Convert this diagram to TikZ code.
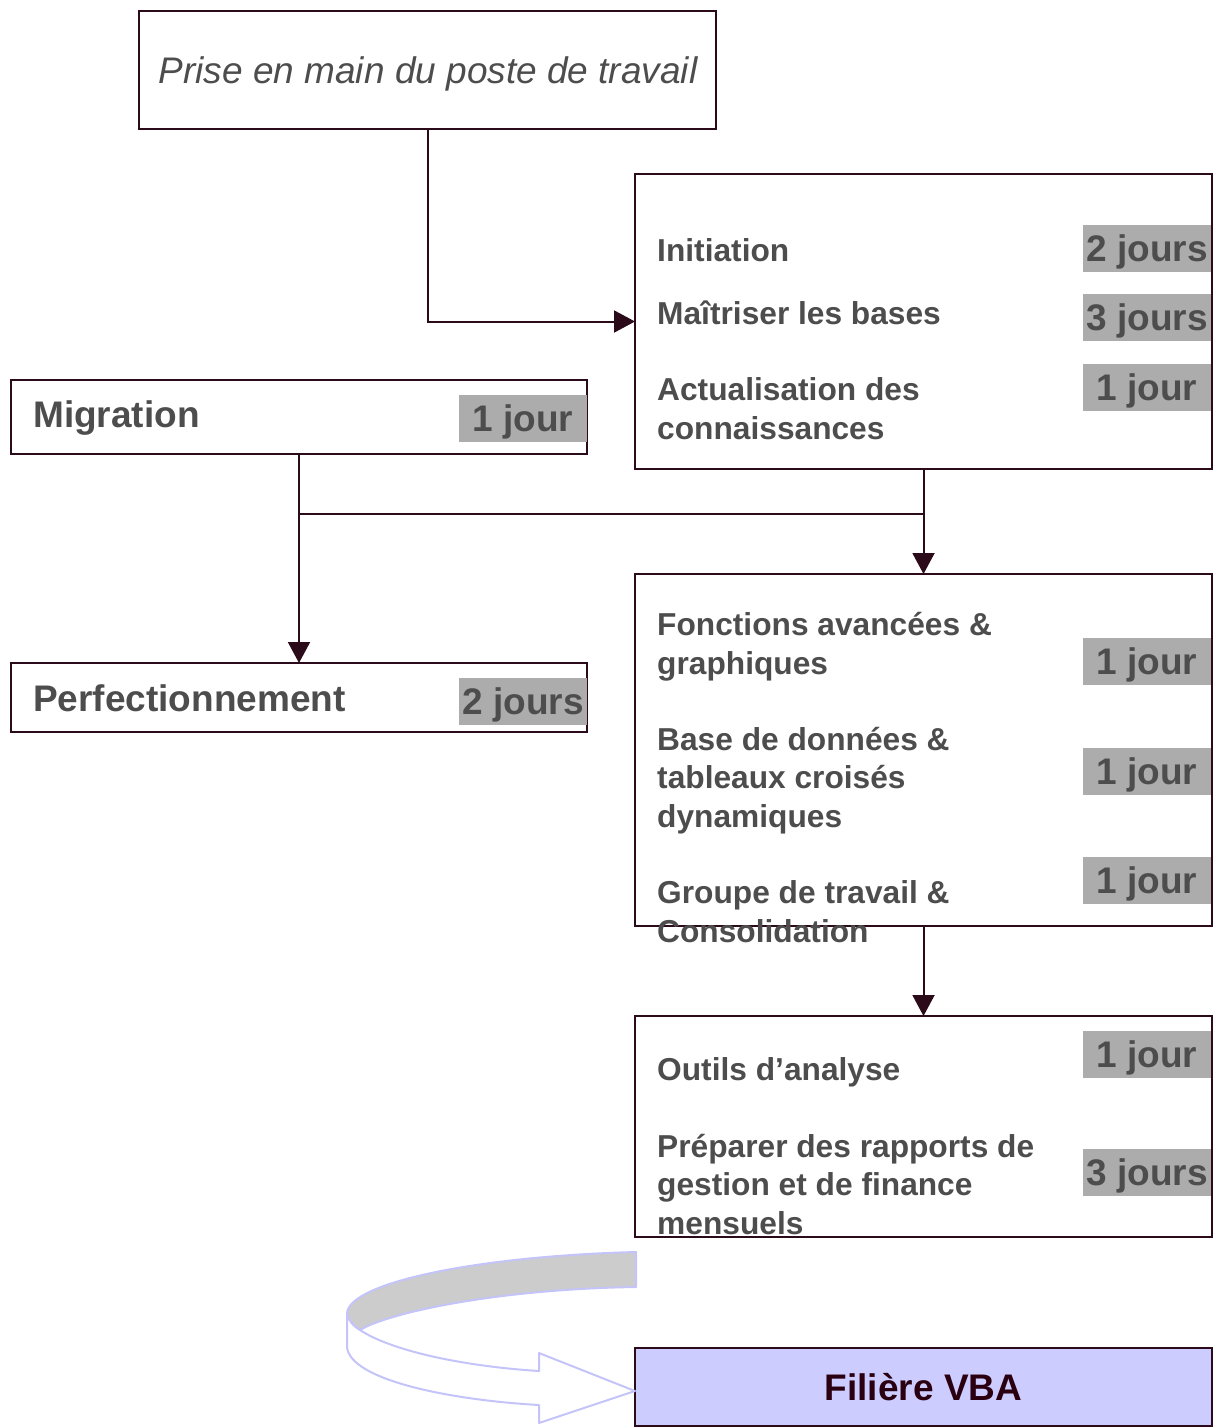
\documentclass[tikz,border=0pt]{standalone}
\usepackage{fontspec}
\setmainfont{Liberation Sans}
\usetikzlibrary{arrows.meta}
\definecolor{bordc}{RGB}{43,10,26}
\definecolor{txtc}{RGB}{77,77,77}
\definecolor{greyc}{RGB}{172,172,172}
\definecolor{vbafill}{RGB}{204,204,255}
\definecolor{vbatxt}{RGB}{42,0,16}
\definecolor{arrline}{RGB}{196,196,250}
\definecolor{bandgrey}{RGB}{204,204,204}
\begin{document}
\begin{tikzpicture}[x=1pt,y=-1pt,
  frame/.style={draw=bordc, line width=2pt, rectangle, inner sep=0pt, outer sep=0pt},
  body/.style={anchor=base west, inner sep=0pt, text=txtc, font=\bfseries\fontsize{31.7}{38.3}\selectfont, align=left},
  bigtxt/.style={anchor=base west, inner sep=0pt, text=txtc, font=\bfseries\fontsize{37}{44}\selectfont},
  tag/.style={fill=greyc, minimum width=128pt, minimum height=47pt, inner sep=0pt, text=txtc, font=\bfseries\fontsize{37}{44}\selectfont, text height=26.5pt, text depth=0pt},
  conn/.style={draw=bordc, line width=2pt, -{Triangle[length=21pt,width=22pt]}},
  link/.style={draw=bordc, line width=2pt}
]
\useasboundingbox (0,0) rectangle (1215,1427);

% boxes
\node[frame, minimum width=577pt, minimum height=118pt] (b1) at (427.5,70) {};
\node[frame, minimum width=577pt, minimum height=295pt] (b2) at (923.5,321.5) {};
\node[frame, minimum width=576pt, minimum height=74pt] (mig) at (299,417) {};
\node[frame, minimum width=576pt, minimum height=69pt] (perf) at (299,697.5) {};
\node[frame, minimum width=577pt, minimum height=352pt] (b3) at (923.5,750) {};
\node[frame, minimum width=577pt, minimum height=221pt] (b4) at (923.5,1126.5) {};
\node[frame, fill=vbafill, minimum width=577pt, minimum height=78pt, text=vbatxt,
      font=\bfseries\fontsize{37}{44}\selectfont, text height=26.5pt, text depth=0pt] (vba) at (923.5,1387) {Filière VBA};

% connectors
\coordinate (jn) at (600,514);
\draw[conn] (b1.south) |- (b2.west);
\draw[conn] (mig.south) -- (perf.north);
\draw[conn] (b2.south) -- (b3.north);
\draw[link] (mig.south |- jn) -- (b2.south |- jn);
\draw[conn] (b3.south) -- (b4.north);

% texts
\node[anchor=base, inner sep=0pt, text=txtc, font=\itshape\fontsize{37}{44}\selectfont] (tp) at (428,83) {Prise en main du poste de travail};
\node[bigtxt] (tmig) at (33,427) {Migration};
\node[bigtxt] (tperf) at (33,711) {Perfectionnement};

\node[body] (t1) at (657,261) {Initiation};
\node[body] (t2) at (657,324) {Maîtriser les bases};
\node[body] (t3) at (657,439) {Actualisation des\\connaissances};
\node[body] (t4) at (657,674) {Fonctions avancées \&\\graphiques};
\node[body] (t5) at (657,827) {Base de données \&\\tableaux croisés\\dynamiques};
\node[body] (t6) at (657,942) {Groupe de travail \&\\Consolidation};
\node[body] (t7) at (657,1080) {Outils d’analyse};
\node[body] (t8) at (657,1234) {Préparer des rapports de\\gestion et de finance\\mensuels};

% duration tags
\node[tag] (g1) at (1147,248.5) {2 jours};
\node[tag] (g2) at (1147,317.5) {3 jours};
\node[tag] (g3) at (1147,387) {1 jour};
\node[tag] (g4) at (523,418.5) {1 jour};
\node[tag] (g5) at (523,701.5) {2 jours};
\node[tag] (g6) at (1147,661) {1 jour};
\node[tag] (g7) at (1147,771) {1 jour};
\node[tag] (g8) at (1147,880) {1 jour};
\node[tag] (g9) at (1147,1054) {1 jour};
\node[tag] (g10) at (1147,1172) {3 jours};

% curved arrow
\path[fill=bandgrey, draw=arrline, line width=2pt, line join=round]
  (636,1252) .. controls (480,1256) and (350,1282) .. (347,1313)
  .. controls (348,1320) and (353,1326) .. (360,1330)
  .. controls (390,1312) and (500,1289) .. (636,1287) -- cycle;
\path[fill=white, draw=arrline, line width=2pt, line join=round]
  (347,1313) -- (347,1347) .. controls (350,1380) and (450,1400) .. (539,1405)
  -- (539,1423) -- (635,1391) -- (539,1353) -- (539,1371)
  .. controls (460,1366) and (390,1350) .. (360,1330)
  .. controls (353,1326) and (348,1320) .. (347,1313) -- cycle;
\end{tikzpicture}
\end{document}
